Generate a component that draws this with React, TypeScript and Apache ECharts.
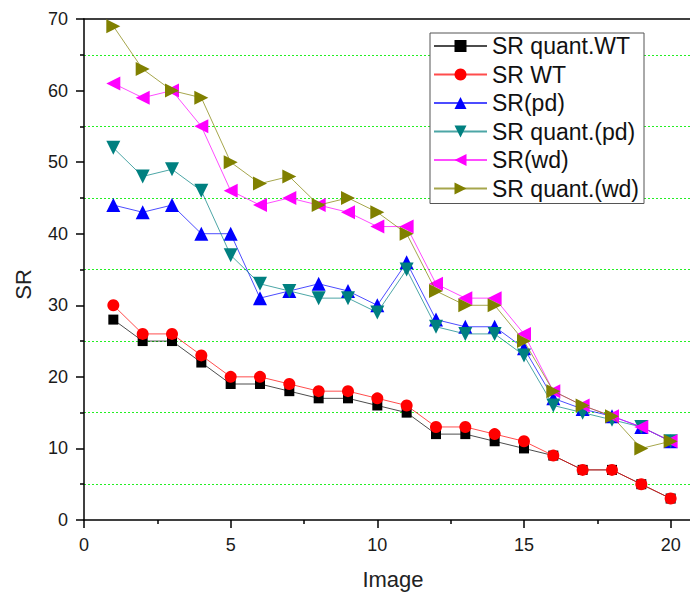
import React, { useEffect, useRef } from 'react';
import * as echarts from 'echarts';

// Image index (x values)
const images = [1, 2, 3, 4, 5, 6, 7, 8, 9, 10, 11, 12, 13, 14, 15, 16, 17, 18, 19, 20];

// Series values
const srQuantWT = [28, 25, 25, 22, 19, 19, 18, 17, 17, 16, 15, 12, 12, 11, 10, 9, 7, 7, 5, 3];
const srWT = [30, 26, 26, 23, 20, 20, 19, 18, 18, 17, 16, 13, 13, 12, 11, 9, 7, 7, 5, 3];
const srPd = [44, 43, 44, 40, 40, 31, 32, 33, 32, 30, 36, 28, 27, 27, 24, 17, 15.5, 14.5, 13, 11];
const srQuantPd = [52, 48, 49, 46, 37, 33, 32, 31, 31, 29, 35, 27, 26, 26, 23, 16, 15, 14, 13, 11];
const srWd = [61, 59, 60, 55, 46, 44, 45, 44, 43, 41, 41, 33, 31, 31, 26, 18, 16, 14.5, 13, 11];
const srQuantWd = [69, 63, 60, 59, 50, 47, 48, 44, 45, 43, 40, 32, 30, 30, 25, 18, 16, 14.5, 10, 11];

const seriesNames = ['SR quant.WT', 'SR WT', 'SR(pd)', 'SR quant.(pd)', 'SR(wd)', 'SR quant.(wd)'];

// Axis ticks
const xMajorTicks = [0, 5, 10, 15, 20];
const xMinorTicks = [2.5, 7.5, 12.5, 17.5];

const FONT = '"Liberation Sans", Arial, sans-serif';

export default function App() {
  const ref = useRef<HTMLDivElement>(null);

  useEffect(() => {
    if (!ref.current) return;
    const chart = echarts.init(ref.current, undefined, { renderer: 'svg' });

    const specs = [
      { data: srQuantWT, color: '#000000', symbol: 'rect', size: 10, rotate: 0 },
      { data: srWT, color: '#ff0000', symbol: 'circle', size: 12, rotate: 0 },
      { data: srPd, color: '#0000ff', symbol: 'triangle', size: 14, rotate: 0 },
      { data: srQuantPd, color: '#008080', symbol: 'triangle', size: 14, rotate: 180 },
      { data: srWd, color: '#ff00ff', symbol: 'triangle', size: 14, rotate: 90 },
      { data: srQuantWd, color: '#808000', symbol: 'triangle', size: 14, rotate: -90 },
    ];

    const xMax = 20.66;

    chart.setOption({
      animation: false,
      backgroundColor: '#ffffff',
      grid: { left: 84, right: 0, top: 19, bottom: 74, containLabel: false },
      legend: {
        orient: 'vertical',
        left: 430,
        top: 33,
        backgroundColor: '#ffffff',
        borderColor: '#555555',
        borderWidth: 1,
        borderRadius: 0,
        padding: [1, 5, 3, 3],
        itemWidth: 53,
        itemHeight: 15,
        itemGap: 4.5,
        data: seriesNames,
        textStyle: { fontSize: 23, lineHeight: 24, fontFamily: FONT, color: '#111111' },
      },
      xAxis: [
        {
          type: 'value',
          position: 'bottom',
          min: 0,
          max: xMax,
          interval: 5,
          name: 'Image',
          nameLocation: 'middle',
          nameGap: 48,
          nameTextStyle: { fontSize: 22, fontFamily: FONT, color: '#222222', padding: [0, 0, 0, 12] },
          axisLine: { show: true, onZero: false, lineStyle: { color: '#000', width: 1.5 } },
          axisTick: { show: true, length: 8, customValues: xMajorTicks, lineStyle: { color: '#000', width: 1.5 } },
          axisLabel: { show: true, customValues: xMajorTicks, margin: 16, fontSize: 18, fontFamily: FONT, color: '#1a1a1a' },
          splitLine: { show: false },
        },
        {
          type: 'value',
          position: 'bottom',
          min: 0,
          max: xMax,
          interval: 2.5,
          axisLine: { show: false, onZero: false },
          axisTick: { show: true, length: 4, customValues: xMinorTicks, lineStyle: { color: '#000', width: 1.5 } },
          axisLabel: { show: false },
          splitLine: { show: false },
        },
        {
          type: 'value',
          position: 'top',
          min: 0,
          max: xMax,
          axisLine: { show: true, onZero: false, lineStyle: { color: '#000', width: 1.5 } },
          axisTick: { show: false },
          axisLabel: { show: false },
          splitLine: { show: false },
        },
      ],
      yAxis: {
        type: 'value',
        min: 0,
        max: 70,
        interval: 10,
        name: 'SR',
        nameLocation: 'middle',
        nameGap: 50,
        nameTextStyle: { fontSize: 22, fontFamily: FONT, color: '#222222', padding: [0, 30, 0, 0] },
        axisLine: { show: true, onZero: false, lineStyle: { color: '#000', width: 1.5 } },
        axisTick: { show: true, length: 8, lineStyle: { color: '#000', width: 1.5 } },
        minorTick: { show: true, splitNumber: 2, length: 4, lineStyle: { color: '#000', width: 1.5 } },
        axisLabel: { margin: 16, fontSize: 18, fontFamily: FONT, color: '#1a1a1a' },
        splitLine: { show: false },
        minorSplitLine: { show: true, lineStyle: { color: '#22f022', type: [2, 2], width: 1 } },
      },
      series: specs.map((s, i) => ({
        name: seriesNames[i],
        type: 'line',
        xAxisIndex: 0,
        yAxisIndex: 0,
        data: images.map((x, j) => [x, s.data[j]]),
        symbol: s.symbol,
        symbolSize: s.size,
        symbolRotate: s.rotate,
        showSymbol: true,
        showAllSymbol: true,
        clip: false,
        itemStyle: { color: s.color },
        lineStyle: { color: s.color, width: 1, opacity: 0.7 },
        z: 2 + i,
      })),
    });

    return () => {
      chart.dispose();
    };
  }, []);

  return (
    <div
      ref={ref}
      style={{ position: 'absolute', left: 0, top: 0, width: 690, height: 595 }}
    />
  );
}
